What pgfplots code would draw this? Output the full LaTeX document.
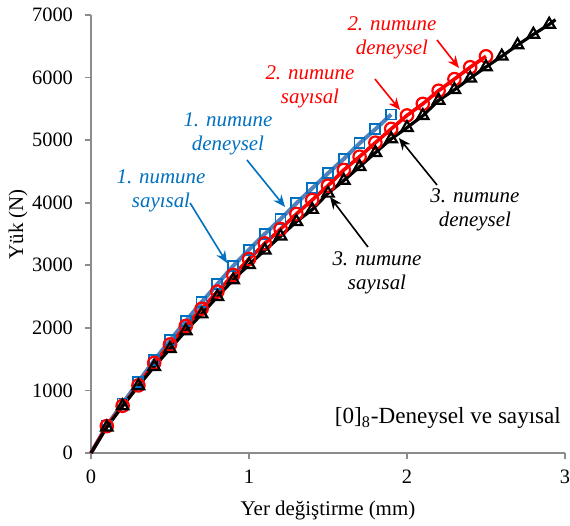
\documentclass[border=0pt]{standalone}
\usepackage{fontspec}
\setmainfont{Liberation Serif}
\usepackage{pgfplots}
\pgfplotsset{compat=1.18}
\usetikzlibrary{arrows.meta}
\definecolor{blin}{RGB}{79,129,189}
\definecolor{bmk}{RGB}{0,112,192}
\definecolor{axgray}{RGB}{140,140,140}
\definecolor{myred}{RGB}{255,0,0}

\pgfplotstableread{
x y
0 0
0.1 440
0.2 790
0.3 1140
0.4 1480
0.5 1800
0.6 2110
0.7 2410
0.8 2700
0.9 2990
1.0 3250
1.1 3500
1.2 3740
1.3 3990
1.4 4230
1.5 4470
1.6 4700
1.7 4950
1.8 5175
1.9 5410
}\numuneA

\pgfplotstableread{
x y
0 0
0.1 430
0.2 755
0.3 1080
0.4 1440
0.5 1735
0.6 2030
0.7 2305
0.8 2580
0.9 2845
1.0 3100
1.1 3350
1.2 3580
1.3 3820
1.4 4043
1.5 4272
1.6 4523
1.7 4736
1.8 4960
1.9 5180
2.0 5395
2.1 5580
2.2 5790
2.3 5975
2.4 6165
2.5 6340
}\numuneB

\pgfplotstableread{
x y
0 0
0.1 411
0.2 751
0.3 1073
0.4 1380
0.5 1665
0.6 1952
0.7 2220
0.8 2498
0.9 2765
1.0 3010
1.1 3240
1.2 3465
1.3 3697
1.4 3890
1.5 4150
1.6 4355
1.7 4576
1.8 4800
1.9 5020
2.0 5200
2.1 5390
2.2 5635
2.3 5805
2.4 5990
2.5 6170
2.6 6340
2.7 6520
2.8 6690
2.9 6850
}\numuneC

\pgfplotstableread{
x y
0 0
0.1 411
0.2 751
0.3 1073
0.4 1380
0.5 1665
0.6 1952
0.7 2220
0.8 2498
0.9 2765
1.0 3010
1.1 3240
1.2 3465
1.3 3697
1.4 3890
1.5 4150
1.6 4355
1.7 4576
1.8 4800
1.9 5020
2.0 5200
2.1 5390
2.2 5635
2.3 5805
2.4 5990
2.5 6170
2.6 6340
2.7 6520
2.8 6690
2.9 6850
2.94 6925
}\numuneCs

\begin{document}
\begin{tikzpicture}
\useasboundingbox (-45.5bp,-36.5bp) rectangle (239.5bp,226.5bp);
\begin{axis}[
  at={(0,0)}, anchor=south west,
  scale only axis, width=237bp, height=219bp,
  xmin=0, xmax=3, ymin=0, ymax=7000,
  axis x line=bottom, axis y line=left,
  axis line style={axgray, line width=1bp, -},
  xtick={0,1,2,3}, ytick={0,1000,...,7000},
  tick align=outside, major tick length=3bp,
  tick style={axgray, line width=0.8bp},
  scaled y ticks=false,
  /pgf/number format/1000 sep={},
  /pgf/number format/assume math mode=true,
  tick label style={font=\fontsize{10.25}{12}\selectfont, black},
  yticklabel style={xshift=-2.5bp},
  xticklabel style={yshift=-2bp},
  label style={font=\fontsize{10.5}{12}\selectfont},
  xlabel={Yer değiştirme (mm)},
  ylabel={Yük (N)},
  xlabel style={at={(axis description cs:0.5,-0.1324)}, anchor=center},
  ylabel style={at={(axis description cs:-0.154,0.522)}, anchor=center},
  clip=false,
]
\addplot[blin, line width=2bp, no markers] table {\numuneA};
\addplot[bmk, line width=0.9bp, only marks, mark=square, mark size=2.5bp, mark options={fill=white, solid}, skip coords between index={0}{1}] table {\numuneA};
\addplot[myred, line width=1.8bp, no markers] table {\numuneB};
\addplot[myred, line width=1.1bp, only marks, mark=o, mark size=3.1bp, mark options={fill=white, solid}, skip coords between index={0}{1}] table {\numuneB};
\addplot[black, line width=1.6bp, no markers] table {\numuneCs};
\addplot[black, line width=1.1bp, only marks, mark=triangle, mark size=3.3bp, mark options={fill=white, solid}, skip coords between index={0}{1}] table {\numuneC};

\tikzset{ann/.style={font=\fontsize{10.5}{12}\selectfont\itshape, align=center}}
% 1. numune
\node[ann, text=bmk] at (axis cs:0.867,5098) {1. numune\\deneysel};
\draw[bmk, line width=0.8bp, -{Stealth[length=6bp,width=5bp]}] (axis cs:0.987,4683) -- (axis cs:1.228,3932);
\node[ann, text=bmk] at (axis cs:0.443,4187) {1. numune\\sayısal};
\draw[bmk, line width=0.8bp, -{Stealth[length=6bp,width=5bp]}] (axis cs:0.627,3996) -- (axis cs:0.861,3037);
% 2. numune
\node[ann, text=myred] at (axis cs:1.386,5849) {2. numune\\sayısal};
\draw[myred, line width=0.8bp, -{Stealth[length=6bp,width=5bp]}] (axis cs:1.797,5977) -- (axis cs:1.956,5482);
\node[ann, text=myred] at (axis cs:1.905,6633) {2. numune\\deneysel};
\draw[myred, line width=0.8bp, -{Stealth[length=6bp,width=5bp]}] (axis cs:2.19,6601) -- (axis cs:2.329,6153);
% 3. numune
\node[ann, text=black] at (axis cs:2.43,3884) {3. numune\\deneysel};
\draw[black, line width=0.8bp, -{Stealth[length=6bp,width=5bp]}] (axis cs:2.19,4283) -- (axis cs:1.949,5034);
\node[ann, text=black] at (axis cs:1.81,2877) {3. numune\\sayısal};
\draw[black, line width=0.8bp, -{Stealth[length=6bp,width=5bp]}] (axis cs:1.753,3292) -- (axis cs:1.513,4091);

\node[font=\fontsize{11.6}{13}\selectfont] at (axis cs:2.259,559) {[0]\textsubscript{8}-Deneysel ve sayısal};
\end{axis}
\end{tikzpicture}
\end{document}
